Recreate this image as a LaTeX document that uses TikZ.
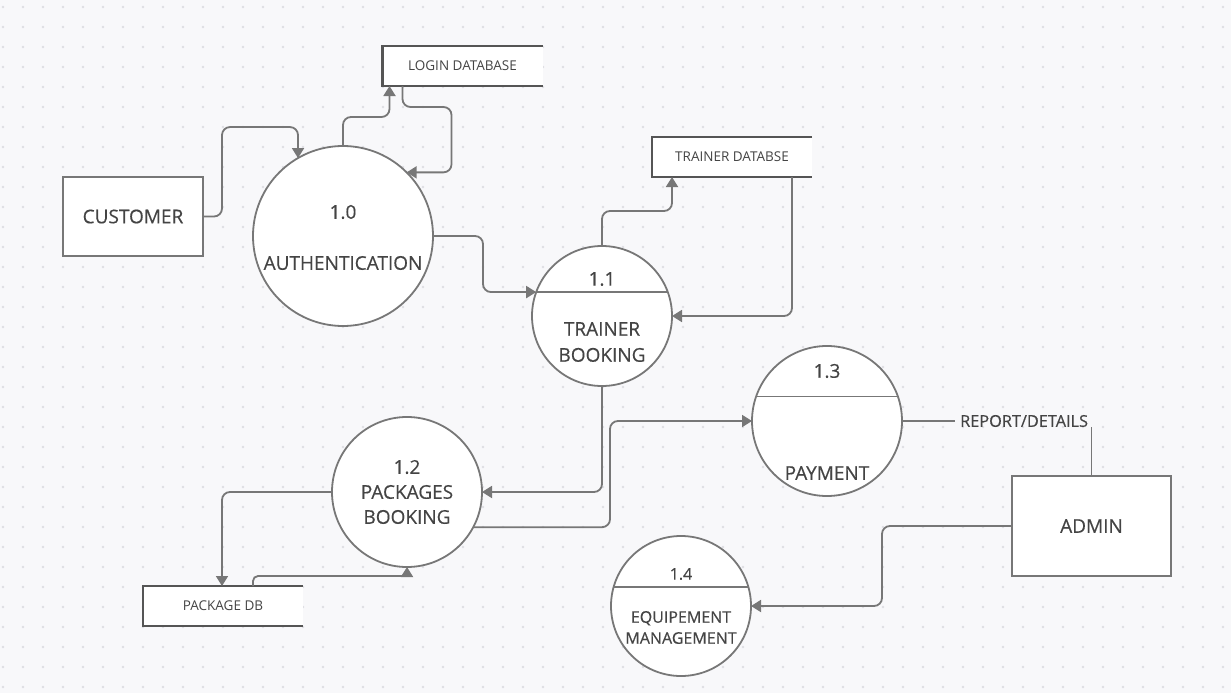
\documentclass[tikz,border=0pt]{standalone}
\usepackage{fontspec}
\setmainfont{Open Sans}
\newfontfamily\mainb{Open Sans}[FakeBold=0.35]
\usetikzlibrary{arrows.meta,calc}
\definecolor{bgc}{HTML}{F8F8FA}
\definecolor{dotc}{HTML}{DEDEE2}
\definecolor{linec}{HTML}{777777}
\definecolor{txtc}{HTML}{444444}
\definecolor{storec}{HTML}{555555}
\begin{document}
\begin{tikzpicture}[x=1pt,y=-1pt,
  proc/.style={circle,draw=linec,line width=1.8pt,fill=white,inner sep=0pt,outer sep=0pt},
  ent/.style={rectangle,draw=linec,line width=1.8pt,fill=white,inner sep=0pt,outer sep=0pt,font=\mainb\fontsize{19}{22}\selectfont,text=txtc},
  store/.style={rectangle,fill=white,inner sep=0pt,outer sep=0pt,minimum width=160pt,minimum height=40pt,font=\fontsize{13.5}{16}\selectfont,text=txtc},
  storeline/.style={draw=storec,line width=2.2pt},
  flow/.style={draw=linec,line width=1.8pt,rounded corners=8pt,-{Triangle[length=10pt,width=12pt]}},
  plain/.style={draw=linec,line width=1.8pt,rounded corners=8pt},
  lbl/.style={text=txtc,font=\mainb\fontsize{19}{22}\selectfont,inner sep=0pt},
  divl/.style={draw=linec,line width=1.8pt}]
\useasboundingbox (0,0) rectangle (1231,693);
\fill[bgc] (0,0) rectangle (1231,693);
\foreach \i in {0,...,61}{\foreach \j in {0,...,34}{\fill[dotc] (3+20*\i,7+20*\j) circle (1.3);}}

% nodes
\node[ent,minimum width=140pt,minimum height=79pt] (cust) at (133,216.5) {CUSTOMER};
\node[proc,minimum size=180pt] (auth) at (343,236) {};
\node[store] (login) at (462.5,66) {LOGIN DATABASE};
\node[proc,minimum size=140pt] (tb) at (602,316) {};
\node[store] (tdb) at (732,157) {TRAINER DATABSE};
\node[proc,minimum size=150pt] (pb) at (407,492) {};
\node[store] (pdb) at (223,606) {PACKAGE DB};
\node[proc,minimum size=150pt] (pay) at (827,421) {};
\node[ent,minimum width=159pt,minimum height=100pt] (admin) at (1091.5,526) {ADMIN};
\node[proc,minimum size=140pt] (eq) at (681,606) {};

% data store outlines
\draw[storeline] (login.north east) -- (login.north west) -- (login.south west) -- (login.south east);
\draw[storeline] (tdb.north east) -- (tdb.north west) -- (tdb.south west) -- (tdb.south east);
\draw[storeline] (pdb.north east) -- (pdb.north west) -- (pdb.south west) -- (pdb.south east);

% division lines
\draw[divl] (tb.160) -- (tb.20);
\draw[divl] (pay.161) -- (pay.19);
\draw[divl] (eq.164) -- (eq.16);

% texts in processes
\node[lbl] (authn) at (343,212) {1.0};
\node[lbl] (autht) at (343,263) {AUTHENTICATION};
\node[lbl] (tbn) at (602,279) {1.1};
\node[lbl,align=center,font=\mainb\fontsize{19}{26}\selectfont] (tbt) at (602,342) {TRAINER\\BOOKING};
\node[lbl,align=center,font=\mainb\fontsize{19}{25}\selectfont] (pbt) at (407,492) {1.2\\PACKAGES\\BOOKING};
\node[lbl] (payn) at (827,371) {1.3};
\node[lbl] (payt) at (827,473) {PAYMENT};
\node[lbl,font=\mainb\fontsize{16}{19}\selectfont] (eqn) at (681,574) {1.4};
\node[lbl,align=center,font=\mainb\fontsize{16}{21}\selectfont] (eqt) at (681,627.5) {EQUIPEMENT\\MANAGEMENT};
\node[lbl,anchor=west,font=\mainb\fontsize{16.3}{19}\selectfont] (rep) at (960,421) {REPORT/DETAILS};

% connectors
\draw[flow] (cust.east) -- ++(19,0) |- ($(auth.120)+(0,-31)$) -- (auth.120);
\draw[flow] (auth.north) -- ++(0,-29) -| ($(login.south west)+(7,0)$);
\draw[flow] ($(login.south west)+(20,0)$) -- ++(0,21) -- ++(49,0) |- (auth.45);
\draw[flow] (auth.east) -- ++(50,0) |- (tb.160);
\draw[flow] (tb.north) -- ++(0,-35) -| ($(tdb.south west)+(20,0)$);
\draw[flow] ($(tdb.south west)+(140,0)$) |- (tb.east);
\draw[flow] (tb.south) |- (pb.east);
\draw[flow] (pb.-28) -| ($(pay.west)+(-142,0)$) -- (pay.west);
\draw[flow] (pb.west) -| ($(pdb.north west)+(79,0)$);
\draw[flow,rounded corners=5pt] ($(pdb.north west)+(110,0)$) -- ++(0,-10) -| (pb.south);
\draw[plain] (pay.east) -- ($(rep.west)+(-5,0)$);
\draw[plain] (admin.north) -- (admin.north |- rep.south);
\draw[flow] (admin.west) -- ++(-130,0) |- (eq.east);
\end{tikzpicture}
\end{document}
